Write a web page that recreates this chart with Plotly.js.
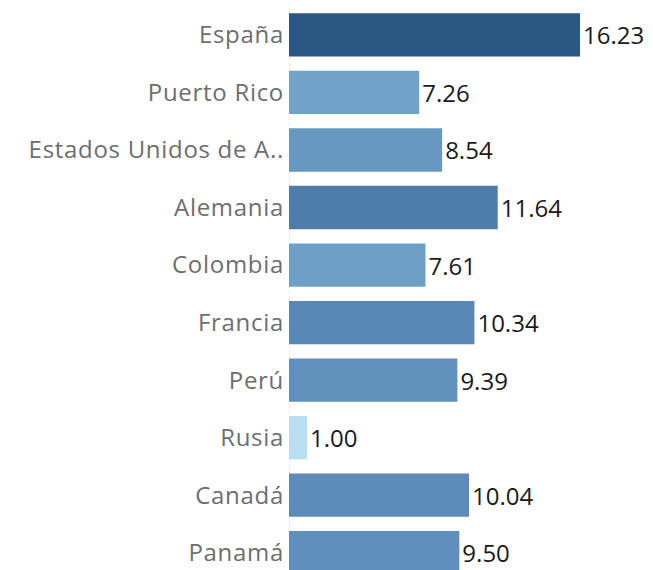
<!DOCTYPE html>
<html>
<head>
<meta charset="utf-8">
<script src="https://cdn.plot.ly/plotly-3.0.1.min.js"></script>
<style>html,body{margin:0;padding:0;background:#fff;}#chart{width:653px;height:570px;}
.ytick text{letter-spacing:0.7px;}</style>
</head>
<body>
<div id="chart"></div>
<script>
const countries = ["España","Puerto Rico","Estados Unidos de A..","Alemania","Colombia","Francia","Perú","Rusia","Canadá","Panamá"];
const values = [16.23, 7.26, 8.54, 11.64, 7.61, 10.34, 9.39, 1.00, 10.04, 9.50];

const trace = {
  type: 'bar',
  orientation: 'h',
  y: countries,
  x: values,
  text: values.map(v => v.toFixed(2)),
  textposition: 'outside',
  cliponaxis: false,
  textfont: {family: '"Open Sans", sans-serif', size: 24, color: '#1a1a1a'},
  marker: {
    color: values,
    cmin: 1, cmax: 16.23,
    colorscale: [[0,'#b9ddf1'],[0.4,'#72a4ca'],[0.6,'#5a8ab8'],[1,'#2a5783']],
    line: {width: 0}
  },
  hoverinfo: 'none'
};

const layout = {
  width: 653, height: 570,
  margin: {l: 289, r: 0, t: 5, b: 0},
  paper_bgcolor: '#fff', plot_bgcolor: '#fff',
  bargap: 0.247,
  showlegend: false,
  xaxis: {range: [0, 20.3], showgrid: false, zeroline: false, showticklabels: false, showline: false, fixedrange: true},
  yaxis: {
    type: 'category',
    range: [9.30, -0.52],
    showgrid: false, zeroline: false, showline: false,
    ticks: '', ticklabelstandoff: 4,
    tickfont: {family: '"Open Sans", sans-serif', size: 24, color: '#6e6e6e'}
  },
  shapes: [{type: 'line', xref: 'x', yref: 'paper', x0: 0, x1: 0, y0: 0, y1: 1,
            line: {color: '#cfcfcf', width: 1, dash: 'dot'}, layer: 'below'}]
};

Plotly.newPlot('chart', [trace], layout, {displayModeBar: false, staticPlot: true});
</script>
</body>
</html>
